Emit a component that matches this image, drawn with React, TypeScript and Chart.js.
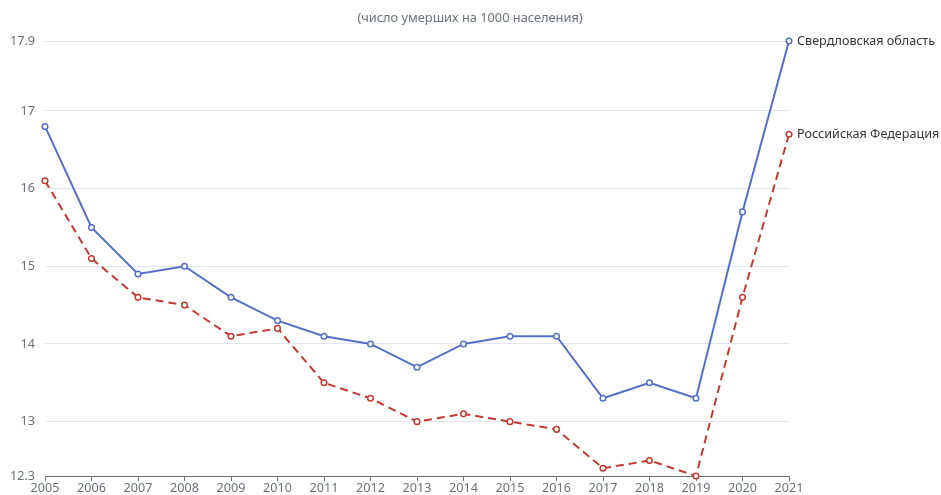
import React, { useEffect, useRef } from "react";
import { Chart, registerables } from "chart.js";

Chart.register(...registerables);

const years = ["2005","2006","2007","2008","2009","2010","2011","2012","2013","2014","2015","2016","2017","2018","2019","2020","2021"];
const sverdlovsk = [16.8,15.5,14.9,15.0,14.6,14.3,14.1,14.0,13.7,14.0,14.1,14.1,13.3,13.5,13.3,15.7,17.9];
const russia = [16.1,15.1,14.6,14.5,14.1,14.2,13.5,13.3,13.0,13.1,13.0,12.9,12.4,12.5,12.3,14.6,16.7];
const yTicks = [12.3,13,14,15,16,17,17.9];
const titleText = "(число умерших на 1000 населения)";
const seriesNames = ["Свердловская область", "Российская Федерация"];

const FONT = "'Noto Sans', sans-serif";

export default function App() {
  const ref = useRef<HTMLCanvasElement | null>(null);
  useEffect(() => {
    document.body.style.margin = "0";
    const endLabels = {
      id: "endLabels",
      afterDatasetsDraw(chart: any) {
        const ctx = chart.ctx;
        ctx.save();
        ctx.font = `12.6px ${FONT}`;
        ctx.fillStyle = "#333";
        ctx.textBaseline = "middle";
        ctx.textAlign = "left";
        chart.data.datasets.forEach((ds: any, i: number) => {
          const meta = chart.getDatasetMeta(i);
          const pt = meta.data[meta.data.length - 1];
          ctx.fillText(ds.label, pt.x + 8, pt.y);
        });
        ctx.font = `12.8px ${FONT}`;
        ctx.fillStyle = "#6e7079";
        ctx.textAlign = "center";
        ctx.fillText(titleText, 470, 18);
        ctx.restore();
      },
    };
    const chart = new Chart(ref.current!, {
      type: "line",
      data: {
        labels: years,
        datasets: [
          {
            label: seriesNames[0],
            data: sverdlovsk,
            borderColor: "#5470c6",
            backgroundColor: "#fff",
            pointBorderColor: "#5470c6",
            pointBackgroundColor: "#fff",
            borderWidth: 2,
            pointRadius: 2.8,
            pointBorderWidth: 1.5,
            tension: 0,
            clip: false,
          },
          {
            label: seriesNames[1],
            data: russia,
            borderColor: "#c23a31",
            backgroundColor: "#fff",
            pointBorderColor: "#c23a31",
            pointBackgroundColor: "#fff",
            borderWidth: 2,
            borderDash: [8, 5],
            pointRadius: 2.8,
            pointBorderWidth: 1.5,
            tension: 0,
            clip: false,
          },
        ],
      },
      options: {
        animation: false,
        responsive: false,
        layout: { padding: { left: 0, right: 152, top: 41, bottom: 0 } },
        plugins: {
          legend: { display: false },
          tooltip: { enabled: false },
          title: { display: false },
        },
        scales: {
          x: {
            type: "category",
            offset: false,
            grid: {
              display: true,
              drawOnChartArea: false,
              drawTicks: true,
              tickLength: 5,
              color: "#6e7079",
            },
            border: { display: true, color: "#6e7079", width: 1 },
            ticks: {
              color: "#6e7079",
              font: { size: 12.6, family: FONT },
              padding: 0,
              maxRotation: 0,
              autoSkip: false,
            },
            afterFit(scale: any) {
              scale.height = 19;
            },
          },
          y: {
            min: 12.3,
            max: 17.9,
            afterBuildTicks(scale: any) {
              scale.ticks = yTicks.map((v) => ({ value: v }));
            },
            grid: { color: "#e0e6f1", drawTicks: false },
            border: { display: false },
            ticks: {
              color: "#6e7079",
              font: { size: 12.6, family: FONT },
              padding: 10,
              callback: (v: any) => String(v),
            },
            afterFit(scale: any) {
              scale.width = 45;
            },
          },
        },
      },
      plugins: [endLabels],
    } as any);
    return () => chart.destroy();
  }, []);
  return <canvas ref={ref} width={941} height={495} style={{ display: "block" }} />;
}
